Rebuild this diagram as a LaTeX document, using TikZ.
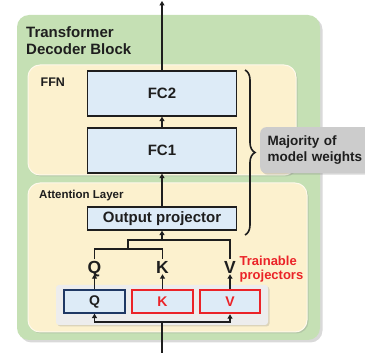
\documentclass[tikz,border=0pt]{standalone}
\usepackage{fontspec}
\setmainfont{Liberation Sans}
\usetikzlibrary{shadows,decorations.pathreplacing,arrows.meta}

\definecolor{blockgreen}{RGB}{197,224,180}
\definecolor{cream}{RGB}{252,241,206}
\definecolor{boxblue}{RGB}{221,235,247}
\definecolor{bankgray}{RGB}{237,237,237}
\definecolor{notegray}{RGB}{204,204,204}
\definecolor{hotred}{RGB}{235,35,40}
\definecolor{navy}{RGB}{31,56,100}
\definecolor{ink}{RGB}{30,30,30}

\tikzset{
  fsz/.style={font=\fontsize{#1}{#1}\selectfont\bfseries},
  blockbox/.style={rectangle, fill=blockgreen, rounded corners=12pt,
    drop shadow={shadow xshift=2.5pt, shadow yshift=-2.5pt, opacity=0.3}},
  layerbox/.style={rectangle, fill=cream, draw=white!60!cream, line width=1pt,
    rounded corners=12pt,
    drop shadow={shadow xshift=1.5pt, shadow yshift=-1.5pt, opacity=0.25}},
  fcbox/.style={rectangle, fill=boxblue, draw=ink, line width=1.3pt,
    inner sep=0pt, text=ink, fsz=15},
  bankbox/.style={rectangle, fill=bankgray, rounded corners=3pt,
    drop shadow={shadow xshift=1.5pt, shadow yshift=-1.5pt, opacity=0.25}},
  projbox/.style={rectangle, fill=boxblue, inner sep=0pt, fsz=14,
    minimum height=23pt},
  trainable/.style={projbox, draw=hotred, line width=2.4pt, text=hotred},
  frozen/.style={projbox, draw=navy, line width=1.3pt, text=ink},
  qkv/.style={fsz=17.5, text=ink, inner sep=1pt, text height=12.5pt, text depth=0pt},
  heading/.style={text=ink, inner sep=0pt},
  wire/.style={draw=ink, line width=1.8pt},
  feed/.style={wire, -{Triangle[length=4.5pt,width=5pt]}},
}

\begin{document}
\begin{tikzpicture}[x=1pt,y=-1pt]
\useasboundingbox (0,0) rectangle (365,353);

% containers
\node[blockbox, minimum width=303pt, minimum height=325pt] (block) at (168.5,177.5) {};
\node[layerbox, minimum width=268pt, minimum height=110pt] (ffn) at (162,120) {};
\node[layerbox, minimum width=279pt, minimum height=149pt] (attn) at (167.5,257.5) {};

\node[heading, anchor=north west, align=left,
      font=\fontsize{15}{17}\selectfont\bfseries] (title) at (26,26.5)
  {Transformer\\Decoder Block};
\node[heading, fsz=12.5, anchor=base west] (ffnlab) at (40.5,86.5) {FFN};
\node[heading, fsz=11.5, anchor=base west] (attnlab) at (39,198.5) {Attention Layer};

% feed-forward network
\node[fcbox, minimum width=149pt, minimum height=45pt] (fc2) at (162,93.5) {FC2};
\node[fcbox, minimum width=149pt, minimum height=45pt] (fc1) at (162,150.5) {FC1};
\node[fcbox, minimum width=149pt, minimum height=23pt] (outproj) at (162,218.5) {Output projector};

% projector bank
\node[bankbox, minimum width=212pt, minimum height=40pt] (bank) at (162,305) {};
\node[frozen, minimum width=61pt] (sq) at (94.5,301.5) {Q};
\node[trainable, minimum width=61pt] (sk) at (162.5,301.5) {K};
\node[trainable, minimum width=60pt] (sv) at (230,301.5) {V};

% projected Q, K, V
\node[qkv, anchor=base] (qlab) at (94.5,273) {Q};
\node[qkv, anchor=base] (klab) at (162.5,273) {K};
\node[qkv, anchor=base] (vlab) at (230,273) {V};

\node[text=hotred, inner sep=0pt, anchor=north west, align=left,
      font=\fontsize{13}{14}\selectfont\bfseries] (trainlab) at (239.5,255.5)
  {Trainable\\projectors};

% note on the weights
\node[rectangle, fill=notegray, rounded corners=6pt, anchor=north west,
      minimum width=115pt, minimum height=46pt, text width=100pt,
      inner xsep=7pt, align=left, text=ink,
      font=\fontsize{13.5}{16}\selectfont\bfseries,
      drop shadow={shadow xshift=1.5pt, shadow yshift=-1.5pt, opacity=0.3}]
  (note) at (260,127) {Majority of\\model weights};

\draw[ink, line width=1.6pt, decorate, decoration={brace, amplitude=10pt}]
  (245,70) -- (245,235) coordinate (braceend);

% data flow
\coordinate (out) at (162,1);
\coordinate (in) at (162,353);
\coordinate (inbar) at (162,322);
\coordinate (qk) at (128,249);
\coordinate (merge) at (128,240);

\draw[feed] (fc2.north) -- (out);
\draw[feed] (fc1.north) -- (fc2.south);
\draw[feed] (outproj.north) -- (fc1.south);
\draw[feed] (outproj.south |- merge) -- (outproj.south);

\draw[wire] (qlab.north) |- (qk) -| (klab.north);
\draw[wire] (qk) -- (merge) -| (vlab.north);

\draw[feed] (sq.north) -- (qlab.south);
\draw[feed] (sk.north) -- (klab.south);
\draw[feed] (sv.north) -- (vlab.south);

\draw[wire] (in) -- (inbar);
\draw[feed] (inbar) -| (sq.south);
\draw[feed] (inbar) -| (sv.south);
\end{tikzpicture}
\end{document}
